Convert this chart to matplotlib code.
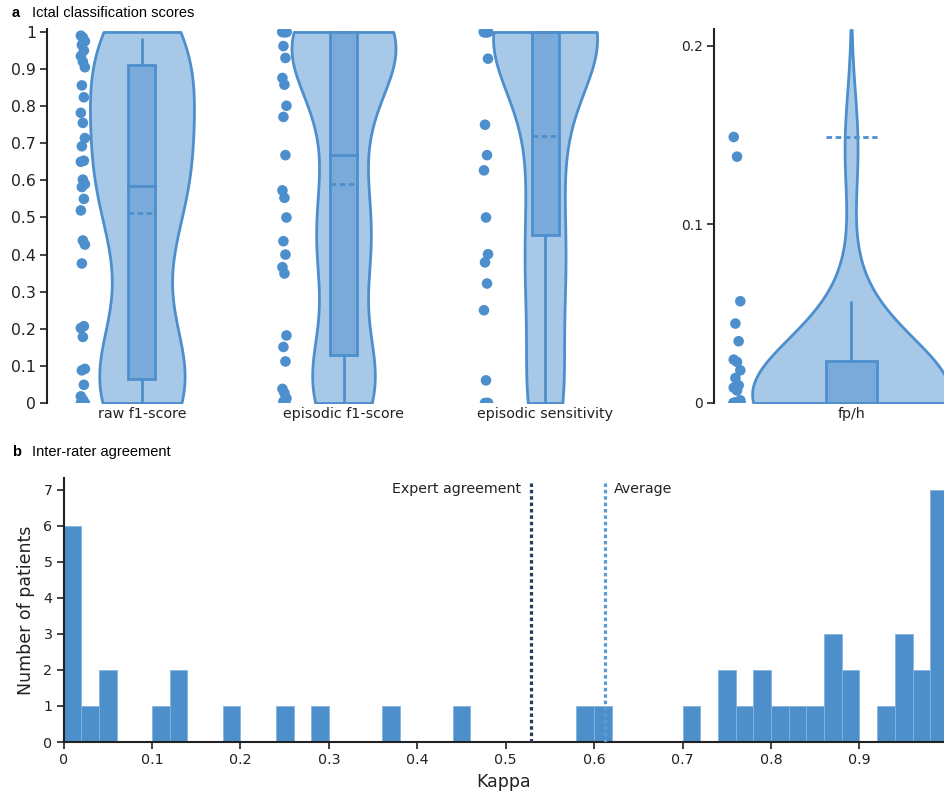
import numpy as np
import matplotlib
matplotlib.use("Agg")
import matplotlib.pyplot as plt
from matplotlib.patches import Rectangle

# ---------------- data ----------------
categories = ["raw f1-score", "episodic f1-score", "episodic sensitivity"]

raw_f1 = [0.99, 0.985, 0.975, 0.965, 0.95, 0.935, 0.92, 0.905,
          0.856, 0.824, 0.782, 0.755, 0.714, 0.692, 0.653, 0.650, 0.602, 0.590, 0.582,
          0.550, 0.519, 0.438, 0.427, 0.376,
          0.207, 0.202, 0.178, 0.092, 0.088, 0.049, 0.018, 0.009, 0.0, 0.0, 0.0, 0.0]
episodic_f1 = [1.0] * 8 + [0.962, 0.930, 0.876, 0.858, 0.801, 0.771, 0.668, 0.573, 0.553,
                           0.500, 0.436, 0.400, 0.366, 0.349, 0.182, 0.151, 0.112, 0.038,
                           0.027, 0.013, 0.004, 0.0]
episodic_sens = [1.0] * 12 + [0.928, 0.750, 0.668, 0.627, 0.500, 0.401, 0.379, 0.322,
                              0.250, 0.061, 0.0, 0.0, 0.0]
fph = [0.149, 0.138, 0.057, 0.0445, 0.0346, 0.0243, 0.0230, 0.0183, 0.014, 0.0099,
       0.0086, 0.007, 0.0015] + [0.0] * 22

# box statistics: q1, median, q3, whisker low, whisker high, mean
box_q1 = [0.066, 0.130, 0.452]
box_med = [0.584, 0.668, 1.0]
box_q3 = [0.912, 1.0, 1.0]
box_lo = [0.0, 0.0, 0.0]
box_hi = [0.985, 1.0, 1.0]
box_mean = [0.513, 0.590, 0.719]
fph_stats = dict(q1=0.0, med=0.0, q3=0.0237, lo=0.0, hi=0.057, mean=0.149)

# histogram of kappa (bin width 0.02)
kappa_bin_left = [0.00, 0.02, 0.04, 0.10, 0.12, 0.18, 0.24, 0.28, 0.36, 0.44, 0.58, 0.60,
                  0.70, 0.74, 0.76, 0.78, 0.80, 0.82, 0.84, 0.86, 0.88, 0.92, 0.94, 0.96, 0.98]
kappa_counts = [6, 1, 2, 1, 2, 1, 1, 1, 1, 1, 1, 1,
                1, 2, 1, 2, 1, 1, 1, 3, 2, 1, 3, 2, 7]
kappa_bin_width = 0.02
expert_kappa = 0.529
average_kappa = 0.612

# ---------------- style ----------------
C_LINE = "#4d8fcc"
C_VIOL = "#a8c8e8"
C_BOX = "#7aaad9"
C_BAR = "#4d8fcb"
C_EXPERT = "#283a5e"
C_AVG = "#5a9bd6"
C_AX = "#222222"

W, H = 944, 797
fig = plt.figure(figsize=(W / 100, H / 100), dpi=100)


def fx(px):
    return px / W


def fy(py):
    return 1 - py / H


def kde(data, grid, bw):
    d = np.asarray(data, float)
    return np.exp(-0.5 * ((grid[:, None] - d[None, :]) / bw) ** 2).sum(1)


def draw_violin(ax, c, data, bw, hw, lo_clip, hi_clip, bh, q1, med, q3, lo, hi, mean,
                pt_off, jit):
    d = np.asarray(data, float)
    g0 = max(lo_clip, d.min() - 2 * bw)
    g1 = min(hi_clip, d.max() + 2 * bw)
    grid = np.linspace(g0, g1, 400)
    dens = kde(d, grid, bw)
    w = dens / dens.max() * hw
    ax.fill_betweenx(grid, c - w, c + w, facecolor=C_VIOL, edgecolor=C_LINE, lw=2.0,
                     zorder=2)
    # whiskers
    ax.plot([c, c], [q3, hi], color=C_LINE, lw=2.0, zorder=3, solid_capstyle="butt")
    ax.plot([c, c], [lo, q1], color=C_LINE, lw=2.0, zorder=3, solid_capstyle="butt")
    ax.add_patch(Rectangle((c - bh, q1), 2 * bh, q3 - q1, facecolor=C_BOX,
                           edgecolor=C_LINE, lw=2.0, zorder=3))
    ax.plot([c - bh, c + bh], [med, med], color=C_LINE, lw=2.0, zorder=4)
    ax.plot([c - bh, c + bh], [mean, mean], color=C_LINE, lw=2.0, zorder=4,
            linestyle=(0, (2.0, 1.3)))
    # points
    xs = c + pt_off + np.array([jit * (((i * 7) % 5) - 2) / 2 for i in range(len(d))])
    ax.scatter(xs, d, s=58, color=C_LINE, edgecolors="none", zorder=5)


# ---------- panel a: three score violins ----------
ax1 = fig.add_axes([fx(47), fy(403), fx(640 - 47), fy(29) - fy(403)])
ax1.set_xlim(-0.471, 2.471)
ax1.set_ylim(0, 1.008)
series = [raw_f1, episodic_f1, episodic_sens]
bws = [0.15, 0.13, 0.16]
for i, dat in enumerate(series):
    draw_violin(ax1, i, dat, bws[i], 0.258, 0.0, 1.0, 0.067,
                box_q1[i], box_med[i], box_q3[i], box_lo[i], box_hi[i], box_mean[i],
                -0.293, 0.01)
ax1.set_xticks(range(3))
ax1.set_xticklabels(categories, fontsize=10.3, color="#222")
ax1.tick_params(axis="x", length=0, pad=3)
ax1.set_yticks(np.round(np.arange(0, 1.01, 0.1), 1))
ax1.set_yticklabels(["0"] + [f"{v:.1f}" for v in np.arange(0.1, 0.95, 0.1)] + ["1"],
                    fontsize=11.3, color="#222")
ax1.tick_params(axis="y", length=5, width=1.2, color=C_AX, pad=3)
for s in ["top", "right", "bottom"]:
    ax1.spines[s].set_visible(False)
ax1.spines["left"].set_color(C_AX)
ax1.spines["left"].set_linewidth(1.5)

# ---------- panel a: fp/h ----------
ax2 = fig.add_axes([fx(714), fy(403), fx(944 - 714), fy(29) - fy(403)])
ax2.set_xlim(-0.5, 0.339)
ax2.set_ylim(0, 0.2095)
draw_violin(ax2, 0, fph, 0.03, 0.361, 0.0, 1.0, 0.093,
            fph_stats["q1"], fph_stats["med"], fph_stats["q3"], fph_stats["lo"],
            fph_stats["hi"], fph_stats["mean"], -0.416, 0.012)
ax2.set_xticks([0])
ax2.set_xticklabels(["fp/h"], fontsize=10.3, color="#222")
ax2.tick_params(axis="x", length=0, pad=3)
ax2.set_yticks([0, 0.1, 0.2])
ax2.set_yticklabels(["0", "0.1", "0.2"], fontsize=10, color="#222")
ax2.tick_params(axis="y", length=5, width=1.2, color=C_AX, pad=3)
for s in ["top", "right", "bottom"]:
    ax2.spines[s].set_visible(False)
ax2.spines["left"].set_color(C_AX)
ax2.spines["left"].set_linewidth(1.5)

# ---------- panel b: histogram ----------
ax3 = fig.add_axes([fx(63.6), fy(742), fx(944 - 63.6), fy(478) - fy(742)])
ax3.bar(kappa_bin_left, kappa_counts, width=kappa_bin_width, align="edge",
        color=C_BAR, edgecolor="#86b3de", linewidth=0.6, zorder=2)
ax3.set_xlim(0, 0.9956)
ax3.set_ylim(0, 7.33)
ax3.axvline(expert_kappa, ymin=0, ymax=7.2 / 7.33, color=C_EXPERT, lw=2.3,
            linestyle=(0, (1.1, 0.9)), zorder=3)
ax3.axvline(average_kappa, ymin=0, ymax=7.2 / 7.33, color=C_AVG, lw=2.3,
            linestyle=(0, (1.1, 0.9)), zorder=3)
ax3.text(expert_kappa - 0.012, 7.03, "Expert agreement", ha="right", va="center",
         fontsize=10.3, color="#222")
ax3.text(average_kappa + 0.01, 7.03, "Average", ha="left", va="center",
         fontsize=10.3, color="#222")
ax3.set_xticks(np.round(np.arange(0, 0.95, 0.1), 1))
ax3.set_xticklabels(["0"] + [f"{v:.1f}" for v in np.arange(0.1, 0.95, 0.1)],
                    fontsize=10.3, color="#222")
ax3.set_yticks(range(8))
ax3.set_yticklabels([str(v) for v in range(8)], fontsize=10.3, color="#222")
ax3.tick_params(axis="both", length=5, width=1.2, color=C_AX, pad=3)
ax3.set_xlabel("Kappa", fontsize=12.5, color="#222", labelpad=4)
ax3.set_ylabel("Number of patients", fontsize=12.5, color="#222", labelpad=6)
for s in ["top", "right"]:
    ax3.spines[s].set_visible(False)
for s in ["left", "bottom"]:
    ax3.spines[s].set_color(C_AX)
    ax3.spines[s].set_linewidth(1.5)

# ---------- panel titles ----------
fig.text(fx(12), fy(13), "a", fontsize=10.5, fontweight="bold", family="Liberation Sans",
         va="center", ha="left")
fig.text(fx(32), fy(13), "Ictal classification scores", fontsize=10.5,
         family="Liberation Sans", va="center", ha="left")
fig.text(fx(12), fy(452), "b", fontsize=10.5, fontweight="bold", family="Liberation Sans",
         va="center", ha="left")
fig.text(fx(32), fy(452), "Inter-rater agreement", fontsize=10.5,
         family="Liberation Sans", va="center", ha="left")

fig.savefig("out.png", dpi=100)
